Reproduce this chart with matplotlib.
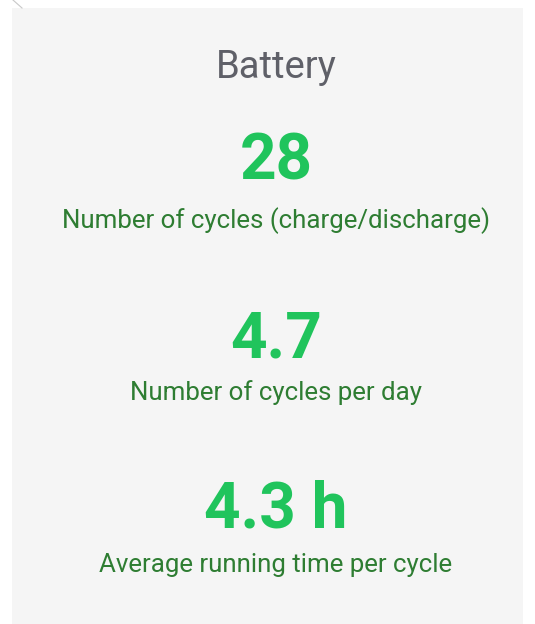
import matplotlib
matplotlib.use("Agg")
import matplotlib.pyplot as plt
from matplotlib.patches import Rectangle

title = "Battery"
values = ["28", "4.7", "4.3 h"]
labels = ["Number of cycles (charge/discharge)", "Number of cycles per day",
          "Average running time per cycle"]

W, H = 535, 624
fig = plt.figure(figsize=(W / 100, H / 100), dpi=100)
fig.patch.set_facecolor("white")
ax = fig.add_axes([0, 0, 1, 1])
ax.set_xlim(0, W)
ax.set_ylim(H, 0)
ax.axis("off")

ax.add_patch(Rectangle((12, 8), 511, 620, facecolor="#f5f5f5", edgecolor="none"))
ax.plot([13, 22], [0, 8], color="#c8c8c8", lw=0.8)

cx = 276
ax.text(cx, 78, title, ha="center", va="baseline", fontsize=27.5,
        family="Roboto", fontweight="normal", color="#5f6068")

value_base = [180, 357, 528]
label_base = [228, 400, 572]
for v, l, vb, lb in zip(values, labels, value_base, label_base):
    ax.text(cx, vb, v, ha="center", va="baseline", fontsize=46,
            family="Roboto", fontweight="bold", color="#20c45c")
    ax.text(cx, lb, l, ha="center", va="baseline", fontsize=18.6,
            family="Roboto", fontweight="normal", color="#2e7d32")

fig.savefig("out.png", dpi=100)
